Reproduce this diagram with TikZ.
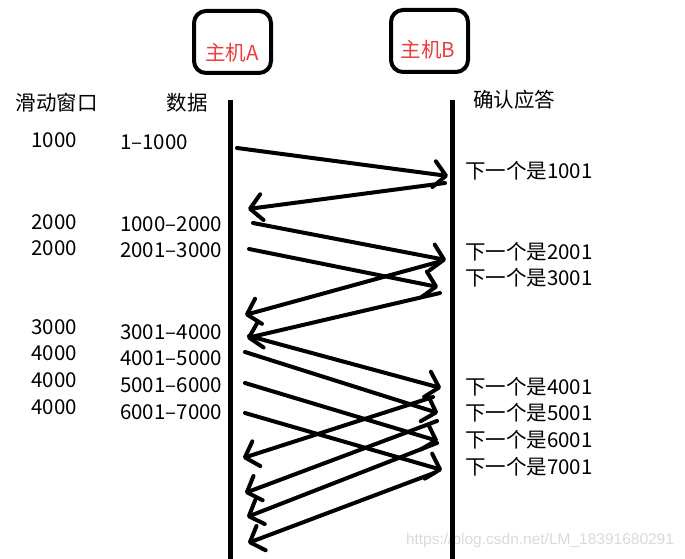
\documentclass[tikz,border=0pt]{standalone}
\usepackage{fontspec}
\setmainfont{Noto Sans CJK SC}
\newfontfamily\wmfont{Liberation Sans}
\usetikzlibrary{arrows.meta}
\definecolor{hostred}{HTML}{EE3B3B}
\definecolor{wmgray}{HTML}{DADADA}

\begin{document}
\begin{tikzpicture}[x=1pt, y=-1pt, font=\fontsize{20.5}{24}\selectfont,
    host/.style={draw, line width=4pt, rounded corners=12pt, minimum width=77pt, minimum height=62pt},
    hostname/.style={text=hostred, inner sep=0pt},
    txt/.style={inner sep=0pt},
    life/.style={line width=5pt},
    msg/.style={-{Straight Barb[length=12pt,width=26pt,round]}, line width=4pt, line cap=round}]
  \useasboundingbox (0,0) rectangle (685,559);
  \node[font=\wmfont\fontsize{15.5}{18}\selectfont, text=wmgray, inner sep=0pt] (wm) at (540,540) {https://blog.csdn.net/LM\_18391680291};
  \node[host] (boxA) at (232.5,42) {};
  \node[host] (boxB) at (429.5,41) {};
  \node[hostname] (hostA) at (232,53) {主机A};
  \node[hostname] (hostB) at (428,50) {主机B};
  \node[txt] (win) at (57,103) {滑动窗口};
  \node[txt] (data) at (187,103) {数据};
  \node[txt] (ack) at (514,100) {确认应答};
  \node[txt] (w1) at (54,140) {1000};
  \node[txt] (w2) at (54,222) {2000};
  \node[txt] (w3) at (54,248) {2000};
  \node[txt] (w4) at (54,327) {3000};
  \node[txt] (w5) at (54,353) {4000};
  \node[txt] (w6) at (54,380) {4000};
  \node[txt] (w7) at (54,407) {4000};
  \node[txt, anchor=west] (d1) at (120,142) {1--1000};
  \node[txt, anchor=west] (d2) at (120,224) {1000--2000};
  \node[txt, anchor=west] (d3) at (120,250) {2001--3000};
  \node[txt, anchor=west] (d4) at (120,332) {3001--4000};
  \node[txt, anchor=west] (d5) at (120,358) {4001--5000};
  \node[txt, anchor=west] (d6) at (120,385) {5001--6000};
  \node[txt, anchor=west] (d7) at (120,412) {6001--7000};
  \node[txt, anchor=west] (n1) at (465,171) {下一个是1001};
  \node[txt, anchor=west] (n2) at (465,252) {下一个是2001};
  \node[txt, anchor=west] (n3) at (465,278) {下一个是3001};
  \node[txt, anchor=west] (n4) at (465,387) {下一个是4001};
  \node[txt, anchor=west] (n5) at (465,413) {下一个是5001};
  \node[txt, anchor=west] (n6) at (465,440) {下一个是6001};
  \node[txt, anchor=west] (n7) at (465,467) {下一个是7001};
  \coordinate (aTop) at (230,100);
  \coordinate (aBot) at (230,559);
  \coordinate (bTop) at (452,100);
  \coordinate (bBot) at (452,559);
  \draw[life] (aTop) -- (aBot);
  \draw[life] (bTop) -- (bBot);
  \coordinate (s1) at (237,148);  \coordinate (t1) at (448,176);
  \coordinate (r1) at (445,183);  \coordinate (u1) at (248,209);
  \coordinate (s2) at (253,223);  \coordinate (t2) at (446,260);
  \coordinate (s3) at (249,249);  \coordinate (t3) at (438,287);
  \coordinate (r2) at (438,262);  \coordinate (u2) at (245,315);
  \coordinate (r3) at (440,293);  \coordinate (u3) at (247,338);
  \coordinate (s4) at (249,336);  \coordinate (t4) at (441,388);
  \coordinate (s5) at (245,352);  \coordinate (t5) at (438,413);
  \coordinate (s6) at (245,383);  \coordinate (t6) at (438,441);
  \coordinate (s7) at (245,413);  \coordinate (t7) at (442,470);
  \coordinate (r4) at (433,397);  \coordinate (u4) at (243,458);
  \coordinate (r5) at (437,421);  \coordinate (u5) at (245,493);
  \coordinate (r6) at (437,443);  \coordinate (u6) at (247,517);
  \coordinate (r7) at (434,473);  \coordinate (u7) at (248,543);
  \draw[msg] (s1) -- (t1);
  \draw[msg] (r1) -- (u1);
  \draw[msg] (s2) -- (t2);
  \draw[msg] (s3) -- (t3);
  \draw[msg] (r2) -- (u2);
  \draw[msg] (r3) -- (u3);
  \draw[msg] (s4) -- (t4);
  \draw[msg] (s5) -- (t5);
  \draw[msg] (s6) -- (t6);
  \draw[msg] (s7) -- (t7);
  \draw[msg] (r4) -- (u4);
  \draw[msg] (r5) -- (u5);
  \draw[msg] (r6) -- (u6);
  \draw[msg] (r7) -- (u7);
\end{tikzpicture}
\end{document}
